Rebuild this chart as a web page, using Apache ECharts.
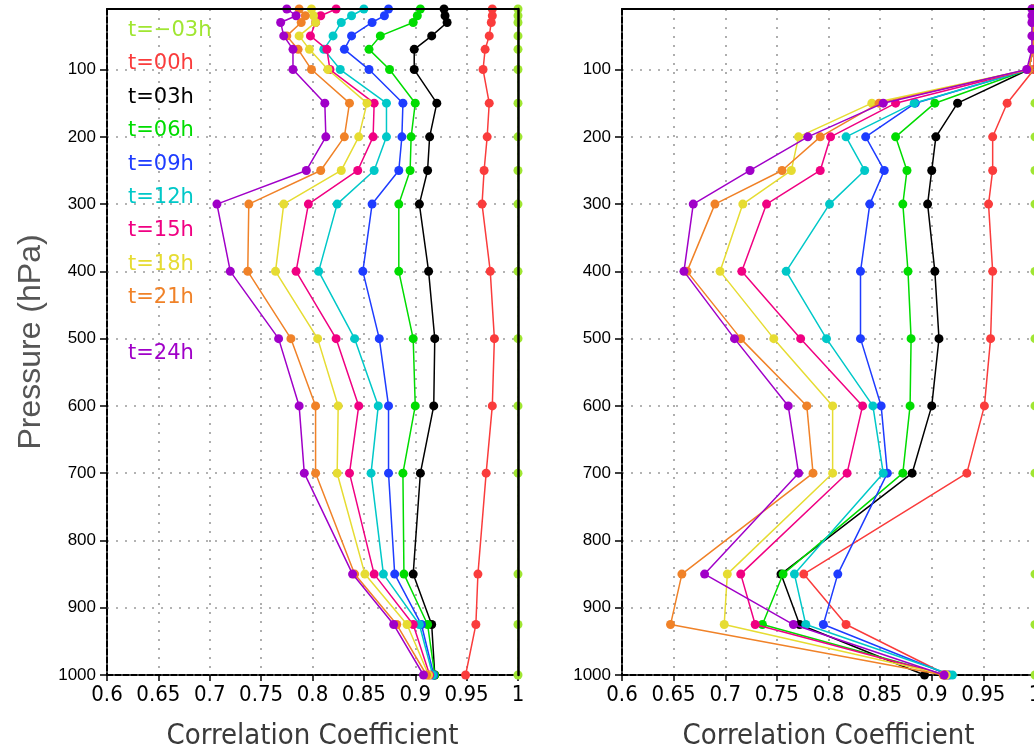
<!DOCTYPE html>
<html><head><meta charset="utf-8">
<script src="https://cdn.jsdelivr.net/npm/echarts@6/dist/echarts.min.js"></script>
<style>html,body{margin:0;padding:0;background:#fff}#c{width:1034px;height:746px}</style>
</head><body><div id="c"></div>
<script>
// pressure levels (hPa)
const levels = [10,20,30,50,70,100,150,200,250,300,400,500,600,700,850,925,1000];
const yTicks = [100,200,300,400,500,600,700,800,900,1000];
const seriesNames = ['t=\u221203h','t=00h','t=03h','t=06h','t=09h','t=12h','t=15h','t=18h','t=21h','t=24h'];
const colors = ['#a0e632','#fa3c3c','#000000','#00dc00','#1e3cff','#00c8c8','#f00082','#e6dc32','#f08228','#a000c8'];

// left panel
const left_tm03 = [1,1,1,1,1,1,1,1,1,1,1,1,1,1,1,1,1];
const left_t00 = [0.975,0.975,0.974,0.972,0.968,0.966,0.972,0.970,0.967,0.965,0.973,0.977,0.975,0.969,0.961,0.959,0.949];
const left_t03 = [0.928,0.929,0.931,0.916,0.899,0.899,0.921,0.914,0.912,0.904,0.913,0.919,0.918,0.905,0.898,0.916,0.919];
const left_t06 = [0.905,0.902,0.898,0.866,0.855,0.875,0.900,0.896,0.895,0.884,0.884,0.898,0.900,0.888,0.889,0.912,0.919];
const left_t09 = [0.874,0.870,0.858,0.838,0.831,0.855,0.888,0.887,0.884,0.858,0.849,0.865,0.874,0.874,0.880,0.906,0.918];
const left_t12 = [0.850,0.838,0.828,0.820,0.811,0.827,0.872,0.872,0.860,0.824,0.806,0.841,0.864,0.857,0.869,0.904,0.917];
const left_t15 = [0.823,0.808,0.803,0.798,0.814,0.817,0.860,0.859,0.844,0.796,0.784,0.823,0.845,0.836,0.860,0.898,0.914];
const left_t18 = [0.799,0.801,0.803,0.787,0.797,0.815,0.853,0.845,0.828,0.772,0.764,0.805,0.825,0.824,0.851,0.892,0.913];
const left_t21 = [0.787,0.793,0.789,0.775,0.786,0.799,0.836,0.831,0.808,0.738,0.737,0.779,0.803,0.803,0.841,0.882,0.911];
const left_t24 = [0.775,0.784,0.769,0.772,0.781,0.781,0.812,0.813,0.794,0.707,0.720,0.767,0.787,0.792,0.839,0.879,0.908];

// right panel
const right_tm03 = [1,1,1,1,1,1,1,1,1,1,1,1,1,1,1,1,1];
const right_t00 = [0.999,0.999,0.999,0.999,0.999,0.999,0.973,0.959,0.959,0.955,0.959,0.957,0.951,0.934,0.776,0.817,0.915];
const right_t03 = [0.998,0.998,0.998,0.998,0.998,0.994,0.925,0.904,0.900,0.896,0.903,0.907,0.900,0.881,0.754,0.772,0.893];
const right_t06 = [0.998,0.998,0.998,0.998,0.998,0.994,0.903,0.865,0.876,0.872,0.877,0.880,0.879,0.872,0.756,0.736,0.913];
const right_t09 = [0.998,0.998,0.998,0.998,0.998,0.994,0.884,0.836,0.854,0.840,0.831,0.831,0.851,0.857,0.809,0.795,0.917];
const right_t12 = [0.998,0.998,0.998,0.998,0.998,0.994,0.883,0.817,0.835,0.801,0.759,0.798,0.843,0.853,0.767,0.778,0.920];
const right_t15 = [0.998,0.998,0.998,0.998,0.998,0.994,0.865,0.802,0.792,0.740,0.716,0.773,0.833,0.818,0.715,0.729,0.913];
const right_t18 = [0.998,0.998,0.998,0.998,0.998,0.994,0.842,0.771,0.764,0.717,0.695,0.747,0.804,0.804,0.702,0.699,0.914];
const right_t21 = [0.998,0.998,0.998,0.998,0.998,0.994,0.849,0.792,0.755,0.690,0.663,0.715,0.779,0.785,0.658,0.647,0.911];
const right_t24 = [0.997,0.997,0.997,0.997,0.997,0.992,0.853,0.780,0.724,0.669,0.660,0.709,0.761,0.771,0.680,0.766,0.912];

const leftSets = [left_tm03,left_t00,left_t03,left_t06,left_t09,left_t12,left_t15,left_t18,left_t21,left_t24];
const rightSets = [right_tm03,right_t00,right_t03,right_t06,right_t09,right_t12,right_t15,right_t18,right_t21,right_t24];

const chart = echarts.init(document.getElementById('c'), null, {renderer:'canvas'});
const narrow = "'Liberation Sans Narrow','DejaVu Sans Condensed','Liberation Sans',sans-serif";
const dotted = {color:'#9a9a9a', width:1.6, type:[2,7]};

function xMain(g){
  return {gridIndex:g, type:'value', min:0.6, max:1, interval:0.05, position:'bottom',
    axisLine:{show:true, onZero:false, lineStyle:{color:'#000', width:2, type:[6,2]}},
    axisTick:{show:true, inside:false, length:6, lineStyle:{color:'#000', width:1.5}},
    axisLabel:{margin:9, color:'#000', fontFamily:narrow, fontSize:22,
      formatter:v=>String(parseFloat(v.toFixed(2)))},
    splitLine:{show:true, lineStyle:dotted},
    name:'Correlation Coefficient', nameLocation:'middle', nameGap:47,
    nameTextStyle:{fontFamily:narrow, fontSize:29, color:'#3a3a3a'}};
}
function xTop(g){
  return {gridIndex:g, type:'value', min:0.6, max:1, position:'top', z:20,
    axisLine:{show:true, onZero:false, lineStyle:{color:'#000', width:2}},
    axisTick:{show:false}, axisLabel:{show:false}, splitLine:{show:false}};
}
function yMain(g, withName){
  const a = {gridIndex:g, type:'value', inverse:true, min:10, max:1000, position:'left',
    axisLine:{show:true, onZero:false, lineStyle:{color:'#000', width:2, type:[6,2]}},
    axisTick:{show:true, inside:false, length:7, customValues:yTicks, lineStyle:{color:'#000', width:1.5}},
    axisLabel:{margin:11, color:'#000', fontFamily:"'Liberation Sans',sans-serif", fontSize:17,
      customValues:yTicks, formatter:v=>String(v)},
    splitLine:{show:true, lineStyle:dotted}};
  if (withName){
    a.name='Pressure (hPa)'; a.nameLocation='middle'; a.nameRotate=90; a.nameGap=60;
    a.nameTextStyle={fontFamily:"'Liberation Sans',sans-serif", fontSize:32, color:'#555'};
  }
  return a;
}
function yRight(g){
  return {gridIndex:g, type:'value', inverse:true, min:10, max:1000, position:'right', z:20,
    axisLine:{show:true, onZero:false, lineStyle:{color:'#000', width:2.5}},
    axisTick:{show:false}, axisLabel:{show:false}, splitLine:{show:false}};
}

const series = [];
function addSeries(sets, xi, yi){
  sets.forEach((vals,k)=>{
    series.push({type:'line', name:seriesNames[k], xAxisIndex:xi, yAxisIndex:yi,
      data: levels.map((p,i)=>[vals[i], p]),
      symbol:'circle', symbolSize:9, showSymbol:true,
      itemStyle:{color:colors[k]}, lineStyle:{color:colors[k], width:1.5},
      z: 3+k, clip:true});
  });
}
addSeries(leftSets, 0, 0);
addSeries(rightSets, 2, 2);

const legendTexts = seriesNames.map((n,k)=>({
  type:'text', left:128, top: 20 + k*33.4 + (k===9 ? 22 : 0),
  style:{text:n, fill:colors[k], font:"21px 'DejaVu Sans', sans-serif"}, z:100
}));

chart.setOption({
  animation:false,
  backgroundColor:'#fff',
  grid:[
    {left:107, top:9, width:411, height:666, outerBoundsMode:'none', containLabel:false},
    {left:622, top:9, width:413, height:666, outerBoundsMode:'none', containLabel:false}
  ],
  xAxis:[xMain(0), xTop(0), xMain(1), xTop(1)],
  yAxis:[yMain(0,true), yRight(0), yMain(1,false), yRight(1)],
  series: series,
  graphic: legendTexts
});
</script></body></html>
